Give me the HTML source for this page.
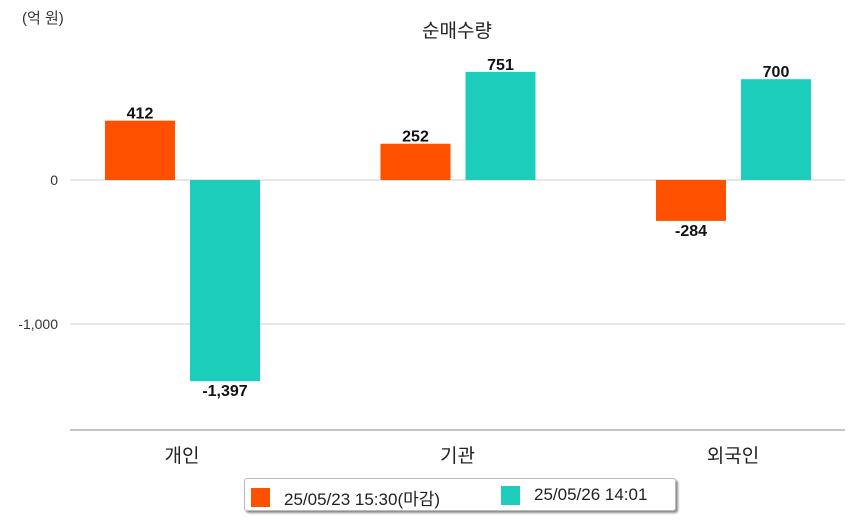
<!DOCTYPE html>
<html><head><meta charset="utf-8"><style>
body{margin:0;background:#fff;font-family:"Liberation Sans","Noto Sans CJK KR",sans-serif;}
#wrap{position:relative;width:854px;height:520px;overflow:hidden}
.legend{position:absolute;left:244px;top:478px;width:430px;height:31px;border:1px solid #bbb;border-radius:3px;box-shadow:2px 2px 2px #888;background:#fff;font-size:17px;color:#222}
.li{position:absolute;top:6px;display:flex;align-items:center}
.sw{width:19px;height:19px;margin-right:14px}
</style></head><body>
<div id="wrap">
<svg id="svg" width="854" height="520" style="position:absolute;left:0;top:0">
<text x="22" y="23" font-size="15" fill="#333" font-family="Liberation Sans, Noto Sans CJK KR, sans-serif">(억 원)</text>
<text x="457" y="37" font-size="19" fill="#222" text-anchor="middle" font-family="Liberation Sans, Noto Sans CJK KR, sans-serif">순매수량</text>
<g id="g"></g>
</svg>
<div class="legend">
<div class="li" style="left:6px"><div class="sw" style="background:#ff5000"></div>25/05/23 15:30(마감)</div>
<div class="li" style="left:256px"><div class="sw" style="background:#1ccdbb"></div>25/05/26 14:01</div>
</div>
</div>
<script>
const categories=["개인","기관","외국인"];
const series1=[412,252,-284];
const series2=[-1397,751,700];
const tickValues=[0,-1000];
const tickLabels=["0","-1,000"];
const NS="http://www.w3.org/2000/svg";
const g=document.getElementById('g');
const x0=70,x1=845,zeroY=180,pxPer=0.144;
const y=v=>zeroY-v*pxPer;
const firstCenter=182,gw=275.5;
function mk(t,a){const e=document.createElementNS(NS,t);for(const k in a)e.setAttribute(k,a[k]);g.appendChild(e);return e;}
tickValues.forEach((v,i)=>{
 const l=mk('line',{x1:x0,x2:x1,y1:y(v),y2:y(v),stroke:'#ccc'});
 
 
 const t=mk('text',{x:58,y:y(v)+5,'text-anchor':'end','font-size':14,fill:'#333'});
 t.textContent=tickLabels[i];
 
 
});
const ax=mk('line',{x1:x0,x2:x1,y1:430,y2:430,stroke:'#888'});


const fmt=v=>v.toLocaleString('en-US');
categories.forEach((c,i)=>{
 const cx=firstCenter+gw*i;
 const ct=mk('text',{x:cx,y:462,'text-anchor':'middle','font-size':19,fill:'#222'});
 ct.textContent=c;
 
 
 [[series1[i],'#ff5000',cx-77],[series2[i],'#1ccdbb',cx+8]].forEach(([v,col,bx],j)=>{
  const top=Math.min(y(v),zeroY),h=Math.abs(y(v)-zeroY);
  const r=mk('rect',{x:bx,y:top,width:70,height:h,fill:col});
  
  
  const ly=v>=0?y(v)-2:y(v)+15;
  const t=mk('text',{x:bx+35,y:ly,'text-anchor':'middle','font-size':16,'font-weight':'bold',fill:'#111'});
  t.textContent=fmt(v);
  
  
 });
});
</script>
</body></html>
